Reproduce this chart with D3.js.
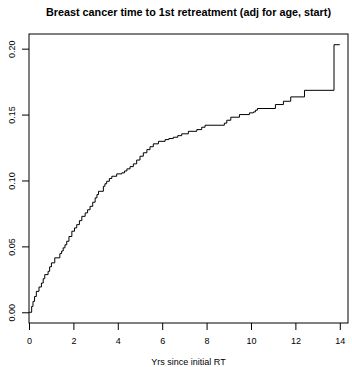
<!DOCTYPE html>
<html>
<head>
<meta charset="utf-8">
<script src="https://cdn.jsdelivr.net/npm/d3@7"></script>
<style>
  html, body { margin: 0; padding: 0; background: #fff; }
  svg { display: block; }
  text { font-family: "Liberation Sans", Arial, Helvetica, sans-serif; fill: #000; }
</style>
</head>
<body>
<svg id="chart" width="352" height="367"></svg>
<script>
// Cumulative incidence of first retreatment (step function, value holds from each time on)
const times = [0, 0.12, 0.18, 0.25, 0.33, 0.45, 0.56, 0.64, 0.71, 0.86, 0.93, 1.01, 1.16, 1.39, 1.47,
  1.54, 1.62, 1.70, 1.80, 1.93, 2.05, 2.15, 2.27, 2.38, 2.53, 2.64, 2.75, 2.87, 2.98, 3.06, 3.13,
  3.35, 3.42, 3.50, 3.62, 3.73, 3.95, 4.18, 4.30, 4.41, 4.55, 4.70, 4.85, 5.00, 5.15, 5.31, 5.45,
  5.60, 5.83, 6.13, 6.30, 6.50, 6.70, 6.88, 7.18, 7.56, 7.78, 7.93, 8.80, 8.91, 9.09, 9.48, 9.93,
  10.11, 10.20, 10.29, 11.10, 11.46, 11.79, 12.41, 13.74, 14.00];
const incidence = [0, 0.0045, 0.0083, 0.0120, 0.0159, 0.0192, 0.0222, 0.0255, 0.0286, 0.0311, 0.0345,
  0.0375, 0.0413, 0.0445, 0.0465, 0.0489, 0.0512, 0.0539, 0.0575, 0.0615, 0.0640, 0.0665, 0.0695,
  0.0728, 0.0754, 0.0778, 0.0804, 0.0835, 0.0868, 0.0893, 0.0918, 0.0956, 0.0975, 0.0994, 0.1015,
  0.1032, 0.1050, 0.1058, 0.1072, 0.1088, 0.1105, 0.1126, 0.1155, 0.1184, 0.1210, 0.1234, 0.1256,
  0.1278, 0.1297, 0.1310, 0.1318, 0.1328, 0.1340, 0.1354, 0.1373, 0.1386, 0.1404, 0.1419, 0.1435,
  0.1457, 0.1480, 0.1500, 0.1513, 0.1520, 0.1533, 0.1546, 0.1576, 0.1601, 0.1634, 0.1684, 0.2030,
  0.2030];

const xTicks = [0, 2, 4, 6, 8, 10, 12, 14];
const yTicks = [0, 0.05, 0.10, 0.15, 0.20];
const xLimit = 14.37;

const titleText = "Breast cancer time to 1st retreatment (adj for age, start)";
const xLabelText = "Yrs since initial RT";

const svg = d3.select("#chart");
const box = { left: 29, right: 348, top: 34, bottom: 323 };

const x = d3.scaleLinear().domain([0, xLimit]).range([box.left, box.right]);
const yMax = d3.max(incidence);
const yPad = yMax * 0.04;
const y = d3.scaleLinear().domain([-yPad, yMax + yPad]).range([box.bottom, box.top]);

const points = times.map((t, i) => [t, incidence[i]]);

// curve
svg.append("path")
  .datum(points)
  .attr("fill", "none")
  .attr("stroke", "#000")
  .attr("stroke-width", 1)
  .attr("d", d3.line().x(d => x(d[0])).y(d => y(d[1])).curve(d3.curveStepAfter));

// x axis
const xAxis = svg.append("g")
  .attr("transform", `translate(0,${box.bottom})`)
  .call(d3.axisBottom(x).tickValues(xTicks).tickSize(7).tickPadding(8).tickFormat(d3.format("d")));
xAxis.select(".domain").remove();
xAxis.selectAll("text").attr("font-size", 9).style("font-family", "Liberation Sans, Arial, sans-serif");

// y axis with rotated labels
const yAxis = svg.append("g")
  .attr("transform", `translate(${box.left},0)`)
  .call(d3.axisLeft(y).tickValues(yTicks).tickSize(7).tickFormat(d3.format(".2f")));
yAxis.select(".domain").remove();
yAxis.selectAll(".tick text")
  .attr("x", null).attr("dy", null)
  .attr("text-anchor", "middle")
  .attr("transform", "translate(-17,0) rotate(-90)")
  .attr("y", 0)
  .attr("dy", "0.35em")
  .attr("font-size", 9)
  .style("font-family", "Liberation Sans, Arial, sans-serif");

// plot frame
svg.append("rect")
  .attr("x", box.left).attr("y", box.top)
  .attr("width", box.right - box.left).attr("height", box.bottom - box.top)
  .attr("fill", "none").attr("stroke", "#000").attr("stroke-width", 1);

// title and axis label
svg.append("text")
  .attr("x", (box.left + box.right) / 2).attr("y", 15.5)
  .attr("text-anchor", "middle")
  .attr("font-size", 10.8).attr("font-weight", "bold")
  .text(titleText);

svg.append("text")
  .attr("x", (box.left + box.right) / 2).attr("y", 365)
  .attr("text-anchor", "middle")
  .attr("font-size", 9)
  .text(xLabelText);
</script>
</body>
</html>
